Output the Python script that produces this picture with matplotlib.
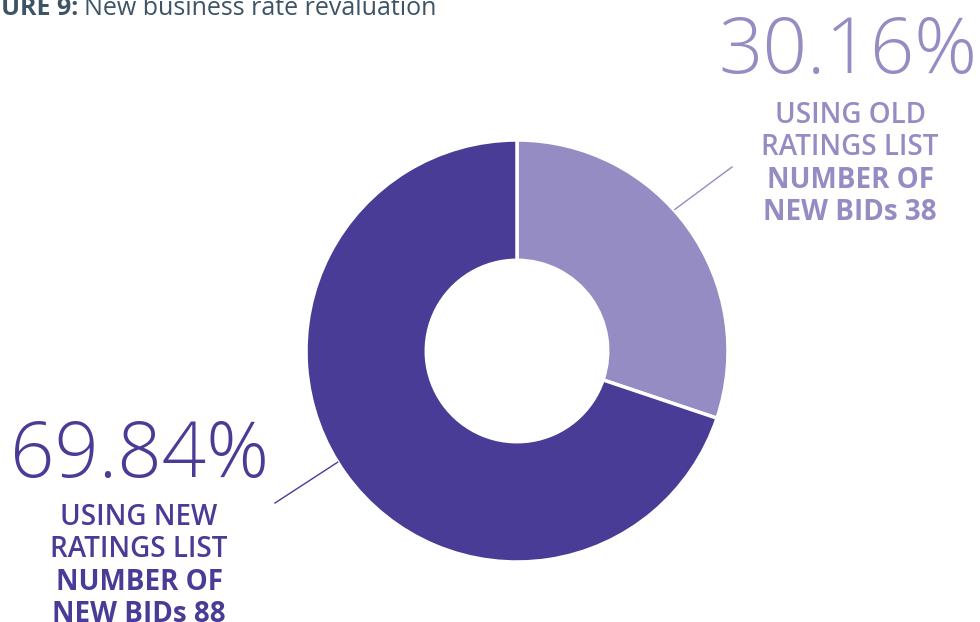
import numpy as np
import matplotlib.pyplot as plt

# BIDs by ratings list used
segments = ["Using old ratings list", "Using new ratings list"]
bids = [38, 88]
shares = [30.16, 69.84]
colors = ["#958cc3", "#483c96"]

title_bold = "FIGURE 9:"
title_rest = "New business rate revaluation"

W, H = 980, 622
fig = plt.figure(figsize=(W / 100, H / 100), dpi=100)
ax = fig.add_axes([0, 0, 1, 1])
ax.set_xlim(0, W)
ax.set_ylim(0, H)
ax.set_aspect("equal")
ax.axis("off")

cx, cy, r = 517, H - 351, 211
wedges, _ = ax.pie(
    shares,
    colors=colors,
    startangle=90,
    counterclock=False,
    center=(cx, cy),
    radius=r,
    wedgeprops=dict(width=r * 0.57, edgecolor="white", linewidth=2.5),
    frame=True,
)
ax.set_xlim(0, W)
ax.set_ylim(0, H)
ax.axis("off")

# title (runs off the left edge)
ax.text(78, H - 15, title_bold, ha="right", va="baseline", fontsize=18,
        fontweight="bold", color="#3d5366", family="Open Sans")
ax.text(84, H - 15, title_rest, ha="left", va="baseline", fontsize=18,
        color="#3d5366", family="Open Sans")


def edge_point(angle_deg, rad):
    a = np.radians(angle_deg)
    return cx + rad * np.cos(a), cy + rad * np.sin(a)


# old list: big percentage + label top right
ax.text(848, H - 73, f"{shares[0]:.2f}%", ha="center", va="baseline",
        fontsize=56, fontweight="light", color=colors[0], family="Open Sans")
ax.text(850, H - 101, "USING OLD\nRATINGS LIST", ha="center", va="top",
        fontsize=20, fontweight="semibold", color=colors[0],
        family="Open Sans", linespacing=1.12)
ax.text(850, H - 166, f"NUMBER OF\nNEW BIDs {bids[0]}", ha="center", va="top",
        fontsize=20, fontweight="bold", color=colors[0],
        family="Open Sans", linespacing=1.12)
x0, y0 = edge_point(41.9, 212)
ax.plot([x0, 732], [y0, H - 167], color=colors[0], lw=1)

# new list: big percentage + label bottom left
ax.text(139, H - 477, f"{shares[1]:.2f}%", ha="center", va="baseline",
        fontsize=56, fontweight="light", color=colors[1], family="Open Sans")
ax.text(139, H - 503, "USING NEW\nRATINGS LIST", ha="center", va="top",
        fontsize=20, fontweight="semibold", color=colors[1],
        family="Open Sans", linespacing=1.12)
ax.text(139, H - 568, f"NUMBER OF\nNEW BIDs {bids[1]}", ha="center", va="top",
        fontsize=20, fontweight="bold", color=colors[1],
        family="Open Sans", linespacing=1.12)
x1, y1 = edge_point(211.8, 211)
ax.plot([x1, 275], [y1, H - 503], color=colors[1], lw=1)

fig.savefig("out.png", dpi=100)
